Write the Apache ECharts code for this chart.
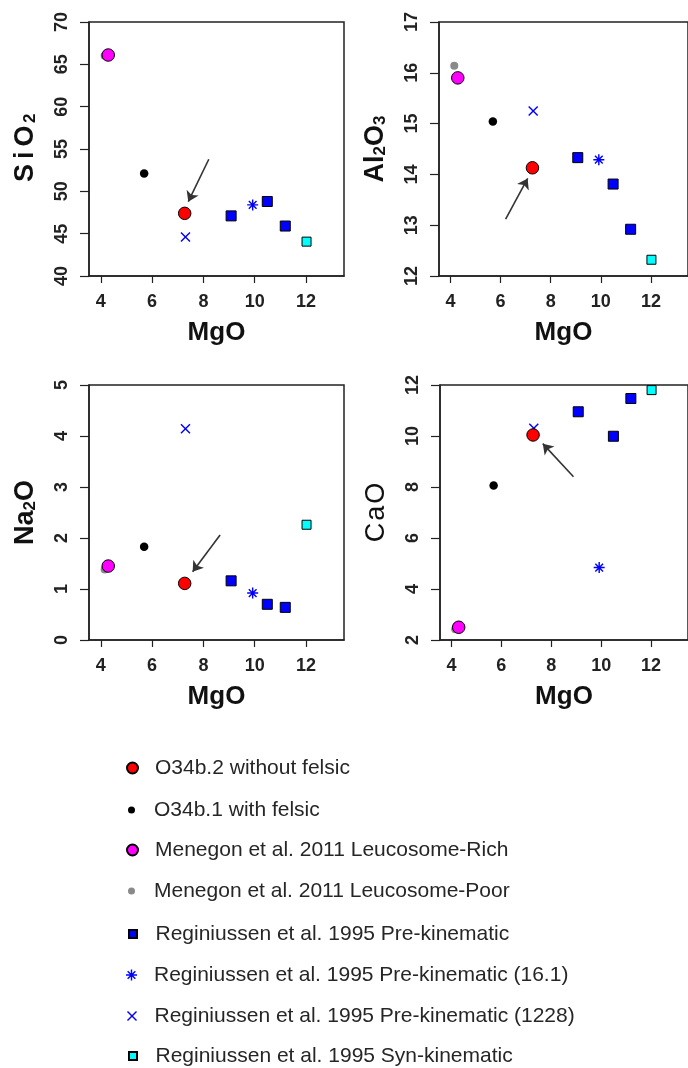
<!DOCTYPE html>
<html><head><meta charset="utf-8">
<script src="https://cdn.jsdelivr.net/npm/echarts@6/dist/echarts.min.js"></script>
<style>html,body{margin:0;padding:0;background:#fff}#c{width:688px;height:1068px}</style>
</head><body><div id="c"></div>
<script>
// ---------- data ----------
const groups = [
  'O34b.2 without felsic',
  'O34b.1 with felsic',
  'Menegon et al. 2011 Leucosome-Rich',
  'Menegon et al. 2011 Leucosome-Poor',
  'Reginiussen et al. 1995 Pre-kinematic',
  'Reginiussen et al. 1995 Pre-kinematic (16.1)',
  'Reginiussen et al. 1995 Pre-kinematic (1228)',
  'Reginiussen et al. 1995 Syn-kinematic'
];
const MgO   = [[7.27],[5.69],[4.29],[4.15],[9.08,10.49,11.19],[9.92],[7.30],[12.02]];
const SiO2  = [[47.4],[52.1],[66.1],[66.0],[47.1,48.8,45.9],[48.4],[44.6],[44.06]];
const Al2O3 = [[14.13],[15.04],[15.90],[16.14],[14.33,13.81,12.92],[14.29],[15.25],[12.32]];
const Na2O  = [[1.11],[1.83],[1.45],[1.38],[1.16,0.70,0.64],[0.92],[4.14],[2.26]];
const CaO   = [[10.04],[8.06],[2.50],[2.42],[10.95,9.99,11.47],[4.84],[10.30],[11.80]];
const xTicks = [4, 6, 8, 10, 12];
const arrowSiO2  = [[8.21, 53.79], [7.41, 48.78]];
const arrowAl2O3 = [[6.20, 13.12], [7.08, 13.92]];
const arrowNa2O  = [[8.65, 2.06], [7.58, 1.34]];
const arrowCaO   = [[8.89, 8.40], [7.66, 9.70]];

// ---------- styles ----------
const FONT = '"Liberation Sans", Arial, sans-serif';
const SQ = 'path://M0,0L10,0L10,10L0,10Z';
const AST = 'path://M4.35,0L5.65,0L5.65,10L4.35,10Z M0,4.35L10,4.35L10,5.65L0,5.65Z M1.96,1.04L8.96,8.04L8.04,8.96L1.04,1.96Z M8.04,1.04L8.96,1.96L1.96,8.96L1.04,8.04Z';
const XS = 'path://M0,1L1,0L5,4L9,0L10,1L6,5L10,9L9,10L5,6L1,10L0,9L4,5Z';
const symbols = ['circle','circle','circle','circle',SQ,AST,XS,SQ];
const fills = ['#ff0000','#000000','#ff00ff','#8a8a8a','#0000ff','#0000ff','#0000ff','#00ffff'];
const borders = [1,0,1,0,1,0,0,1];
const sizes = [12.5,8.5,12.5,8,10,11,10,9];
const legendSizes = [11,7,11,7,8,11,10,8];
const legendCenters = [768,810,850,891,934,975,1016,1056];
const legendIconX = 131.7;
const drawOrder = [3,6,1,4,5,7,2,0];

const panels = [
  {vals: SiO2, min:40, max:70, interval:5, grid:{left:89, top:22, width:255, height:254}, arrow: arrowSiO2,
   name:'{b|S}{b|i}{b|O}{s|2}'},
  {vals: Al2O3, min:12, max:17, interval:1, grid:{left:439, top:22, width:255, height:254}, arrow: arrowAl2O3,
   name:'{c|Al}{s|2}{c|O}{s|3}'},
  {vals: Na2O, min:0, max:5, interval:1, grid:{left:89, top:385, width:255, height:255}, arrow: arrowNa2O,
   name:'{c|Na}{s|2}{c|O}'},
  {vals: CaO, min:2, max:12, interval:2, grid:{left:440, top:385, width:255, height:255}, arrow: arrowCaO,
   name:'{n|C}{n|a}{n|O}'}
];

const rich = {
  b: {fontSize:27, fontWeight:'bold', color:'#111', fontFamily:FONT, padding:[0,2.5]},
  c: {fontSize:27, fontWeight:'bold', color:'#111', fontFamily:FONT},
  n: {fontSize:27, fontWeight:'normal', color:'#111', fontFamily:FONT, padding:[0,1]},
  s: {fontSize:17, fontWeight:'bold', color:'#111', fontFamily:FONT, verticalAlign:'bottom'}
};

const grids = [], xAxes = [], yAxes = [], series = [];
panels.forEach((p, k) => {
  grids.push(Object.assign({show:true, borderColor:'#222', borderWidth:1.5, backgroundColor:'#fff'}, p.grid));
  xAxes.push({
    type:'value', gridIndex:k, min:3.54, max:13.48,
    name:'MgO', nameLocation:'middle', nameGap:44,
    nameTextStyle:{fontSize:26, fontWeight:'bold', color:'#111', fontFamily:FONT},
    axisLine:{show:true, onZero:false, lineStyle:{color:'#222', width:1.5}},
    axisTick:{show:true, customValues:xTicks, length:7, lineStyle:{color:'#222', width:1.2}},
    axisLabel:{show:true, customValues:xTicks, fontSize:18, fontWeight:'bold', color:'#222', fontFamily:FONT, margin:17},
    splitLine:{show:false}
  });
  yAxes.push({
    type:'value', gridIndex:k, min:p.min, max:p.max, interval:p.interval,
    name:p.name, nameLocation:'middle', nameGap:50, nameRotate:90,
    nameTextStyle:{rich:rich, fontSize:27, fontFamily:FONT},
    axisLine:{show:true, onZero:false, lineStyle:{color:'#222', width:1.5}},
    axisTick:{show:true, length:9, lineStyle:{color:'#222', width:1.2}},
    axisLabel:{rotate:90, fontSize:18, fontWeight:'bold', color:'#222', fontFamily:FONT, margin:18},
    splitLine:{show:false}
  });
  drawOrder.forEach(g => {
    series.push({
      type:'scatter', name:groups[g], xAxisIndex:k, yAxisIndex:k,
      symbol:symbols[g], symbolSize:sizes[g],
      itemStyle:{color:fills[g], borderColor:'#000', borderWidth:borders[g], opacity:1},
      data: MgO[g].map((x, i) => [x, p.vals[g][i]]),
      silent:true, z:4
    });
  });
  series.push({
    type:'lines', coordinateSystem:'cartesian2d', xAxisIndex:k, yAxisIndex:k,
    symbol:['none','arrow'], symbolSize:10,
    lineStyle:{color:'#333', width:1.6, opacity:1},
    data:[{coords:p.arrow}], silent:true, z:3
  });
});

const legends = groups.map((n, i) => ({
  show:true, selectedMode:false, orient:'horizontal',
  left: Math.round(legendIconX - legendSizes[i] / 2), top:legendCenters[i]-12, padding:0,
  itemWidth:35, itemHeight:legendSizes[i], icon:symbols[i], symbolKeepAspect:true,
  data:[n],
  textStyle:{fontSize:21, color:'#262626', fontFamily:FONT, lineHeight:24}
}));

const chart = echarts.init(document.getElementById('c'), null, {renderer:'canvas'});
chart.setOption({
  animation:false, backgroundColor:'#fff',
  grid:grids, xAxis:xAxes, yAxis:yAxes, legend:legends, series:series
});
</script></body></html>
